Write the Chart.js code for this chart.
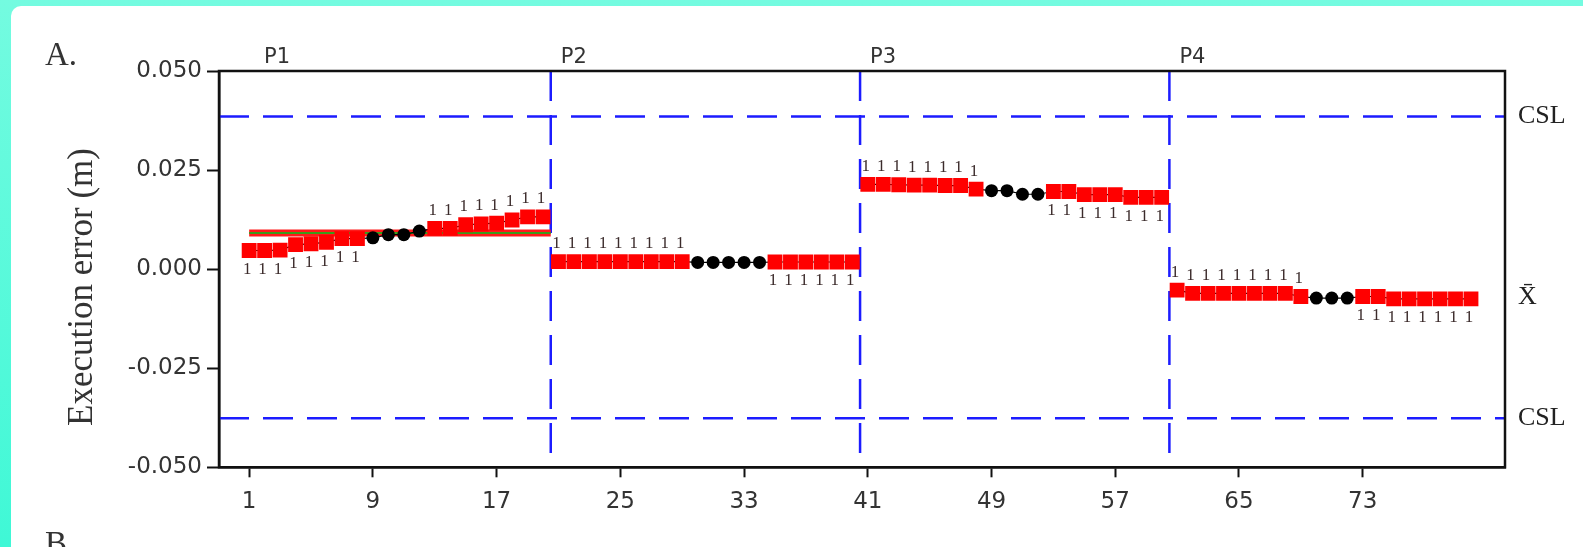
<!DOCTYPE html>
<html lang="en">
<head>
<meta charset="utf-8">
<title>Execution error by phase</title>
<style>
  html, body {margin: 0; padding: 0;}
  body {width: 1583px; height: 547px; overflow: hidden; position: relative; background: linear-gradient(#74fbe0, #3ff8d6);}
  .panel {position: absolute; left: 11px; top: 6px; right: 0; bottom: 0; background: #fff; border-top-left-radius: 10px;}
  .chart-box {position: absolute; left: 0; top: 0; width: 1583px; height: 547px;}
</style>
<script src="https://cdn.jsdelivr.net/npm/chart.js@4.4.1/dist/chart.umd.min.js"></script>
</head>
<body>
<div class="panel"></div>
<div class="chart-box"><canvas id="errChart"></canvas></div>
<script>
// observations 1..80, four phases of 20
const phaseNames = ['P1', 'P2', 'P3', 'P4'];
const phaseSize = 20;
const phaseBreaks = [20.5, 40.5, 60.5];

const p1Values = [0.0047, 0.0047, 0.0048, 0.0062, 0.0064, 0.0068, 0.0077, 0.0077, 0.0079, 0.0087,
                  0.0087, 0.0096, 0.0103, 0.0103, 0.0112, 0.0114, 0.0116, 0.0124, 0.0132, 0.0132];
const p2Values = [0.0019, 0.0019, 0.0019, 0.0019, 0.0019, 0.0019, 0.0019, 0.0019, 0.0019, 0.0017,
                  0.0017, 0.0017, 0.0017, 0.0017, 0.0018, 0.0018, 0.0018, 0.0018, 0.0018, 0.0018];
const p3Values = [0.0214, 0.0214, 0.0213, 0.0212, 0.0212, 0.0211, 0.0211, 0.0202, 0.0198, 0.0198,
                  0.0189, 0.0189, 0.0196, 0.0196, 0.0188, 0.0188, 0.0188, 0.0181, 0.0181, 0.0181];
const p4Values = [-0.0053, -0.0061, -0.0061, -0.0061, -0.0061, -0.0061, -0.0061, -0.0061, -0.0069, -0.0073,
                  -0.0073, -0.0073, -0.0069, -0.0069, -0.0075, -0.0075, -0.0075, -0.0075, -0.0075, -0.0075];

// U = flagged "1" above, D = flagged "1" below, - = in control (black dot)
const p1Flags = 'DDDDDDDD----UUUUUUUU';
const p2Flags = 'UUUUUUUUU-----DDDDDD';
const p3Flags = 'UUUUUUUU----DDDDDDDD';
const p4Flags = 'UUUUUUUUU---DDDDDDDD';

const p1Mean = 0.0091;       // centre line drawn over phase 1 only
const cslUpper = 0.0385;
const cslLower = -0.0376;
const xbarLabelAt = -0.0071;

const xTicks = [1, 9, 17, 25, 33, 41, 49, 57, 65, 73];
const yTicks = [0.05, 0.025, 0, -0.025, -0.05];
const xMin = -0.95, xMax = 82.2;
const yTitle = 'Execution error (m)';

const values = [...p1Values, ...p2Values, ...p3Values, ...p4Values];
const flags = (p1Flags + p2Flags + p3Flags + p4Flags).split('');
const points = values.map((v, i) => ({x: i + 1, y: v}));

const blue = '#1c1cff';
const dashed = {borderColor: blue, borderWidth: 2.5, borderDash: [30, 14], pointRadius: 0, fill: false, order: 5};

const datasets = [
  {
    label: 'error',
    data: points,
    borderColor: '#000',
    borderWidth: 1.2,
    pointStyle: c => flags[c.dataIndex] === '-' ? 'circle' : 'rect',
    pointRadius: c => flags[c.dataIndex] === '-' ? 6.5 : 10.5,
    pointBackgroundColor: c => flags[c.dataIndex] === '-' ? '#000' : '#ff0000',
    pointBorderWidth: 0,
    segment: {borderColor: c => (c.p1DataIndex % phaseSize === 0 ? 'rgba(0,0,0,0)' : '#000')},
    order: 0
  },
  {label: 'mean red', data: [{x: 1, y: p1Mean}, {x: phaseBreaks[0], y: p1Mean}], borderColor: '#ff1a1a', borderWidth: 7, pointRadius: 0, order: 2},
  {label: 'mean green', data: [{x: 1, y: p1Mean}, {x: phaseBreaks[0], y: p1Mean}], borderColor: '#3c9a1a', borderWidth: 2, pointRadius: 0, order: 1},
  Object.assign({label: 'CSL up', data: [{x: xMin, y: cslUpper}, {x: xMax, y: cslUpper}]}, dashed),
  Object.assign({label: 'CSL low', data: [{x: xMin, y: cslLower}, {x: xMax, y: cslLower}]}, dashed)
];
phaseBreaks.forEach(b => {
  datasets.push(Object.assign({label: 'break', data: [{x: b, y: 0.05}, {x: b, y: -0.05}]}, dashed));
});

const annotate = {
  id: 'annotate',
  afterDatasetsDraw(chart) {
    const {ctx, chartArea: a, scales: {x, y}} = chart;
    ctx.save();
    // box frame
    ctx.strokeStyle = '#111';
    ctx.lineWidth = 2.5;
    ctx.strokeRect(a.left, a.top, a.right - a.left, a.bottom - a.top);

    // rule-1 markers
    ctx.font = '17px "Liberation Serif"';
    ctx.fillStyle = '#3b2b2b';
    ctx.textAlign = 'center';
    ctx.textBaseline = 'middle';
    points.forEach((p, i) => {
      if (flags[i] === '-') return;
      const px = x.getPixelForValue(p.x);
      const py = y.getPixelForValue(p.y);
      ctx.fillText('1', px - 2, flags[i] === 'U' ? py - 18 : py + 19);
    });

    // phase names
    ctx.font = '21px "DejaVu Sans"';
    ctx.fillStyle = '#333';
    ctx.textAlign = 'left';
    ctx.textBaseline = 'alphabetic';
    phaseNames.forEach((n, i) => {
      const px = i === 0 ? a.left + 45 : x.getPixelForValue(phaseBreaks[i - 1]) + 10;
      ctx.fillText(n, px, 63);
    });

    // limit labels on the right
    ctx.font = '26px "Liberation Serif"';
    ctx.fillStyle = '#222';
    ctx.textBaseline = 'middle';
    ctx.fillText('CSL', a.right + 13, y.getPixelForValue(cslUpper));
    ctx.fillText('CSL', a.right + 13, y.getPixelForValue(cslLower));
    ctx.fillText('X\u0304', a.right + 13, y.getPixelForValue(xbarLabelAt));

    // axis title, sits a little below the plot centre in the original
    ctx.save();
    ctx.translate(83, 287);
    ctx.rotate(-Math.PI / 2);
    ctx.font = '35px "Liberation Serif"';
    ctx.fillStyle = '#333';
    ctx.textAlign = 'center';
    ctx.fillText(yTitle, 0, 0);
    ctx.restore();

    // panel letters
    ctx.font = '33px "Liberation Serif"';
    ctx.fillStyle = '#333';
    ctx.textAlign = 'left';
    ctx.textBaseline = 'alphabetic';
    ctx.fillText('A.', 45, 65);
    ctx.fillText('B.', 45, 554);
    ctx.restore();
  }
};

new Chart(document.getElementById('errChart').getContext('2d'), {
  type: 'line',
  data: {datasets: datasets},
  options: {
    responsive: true,
    maintainAspectRatio: false,
    animation: false,
    devicePixelRatio: 1,
    layout: {padding: {top: 71, right: 78, left: 0, bottom: 0}},
    plugins: {legend: {display: false}, tooltip: {enabled: false}},
    scales: {
      x: {
        type: 'linear',
        min: xMin,
        max: xMax,
        afterBuildTicks: s => { s.ticks = xTicks.map(v => ({value: v})); },
        afterFit: s => { s.height = 79.7; },
        grid: {drawOnChartArea: false, drawTicks: true, tickLength: 10, tickColor: '#111', tickWidth: 2},
        border: {display: true, color: '#111', width: 2.5},
        ticks: {font: {family: 'DejaVu Sans', size: 23}, color: '#333', padding: 11, maxRotation: 0, autoSkip: false}
      },
      y: {
        min: -0.05,
        max: 0.05,
        afterBuildTicks: s => { s.ticks = yTicks.map(v => ({value: v})); },
        afterFit: s => { s.width = 219; },
        grid: {drawOnChartArea: false, drawTicks: true, tickLength: 12, tickColor: '#111', tickWidth: 2},
        border: {display: true, color: '#111', width: 2.5},
        ticks: {font: {family: 'DejaVu Sans', size: 23}, color: '#333', padding: 5, callback: v => v.toFixed(3)}
      }
    }
  },
  plugins: [annotate]
});
</script>
</body>
</html>
